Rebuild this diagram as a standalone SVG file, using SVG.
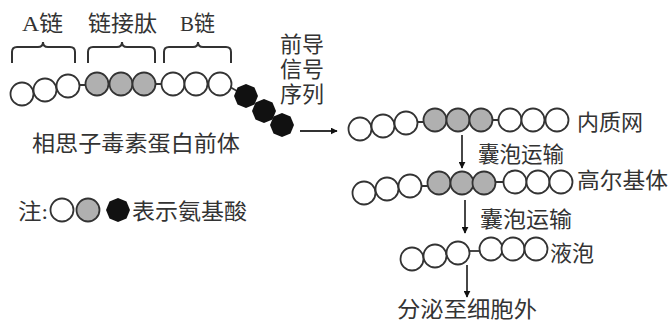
<svg xmlns="http://www.w3.org/2000/svg" width="671" height="325" viewBox="0 0 671 325">
<defs>
<style>
.t{font-family:"Liberation Serif","Noto Sans CJK SC",serif;font-size:22px;fill:#333}
.w{fill:#fff;stroke:#333;stroke-width:1.8}
.g{fill:#b0b0b0;stroke:#333;stroke-width:1.8}
.l{stroke:#333;stroke-width:1.8;fill:none}
.br{stroke:#333;stroke-width:2;fill:none}
</style>
<marker id="ah" viewBox="0 0 10 10" refX="9" refY="5" markerWidth="7" markerHeight="7" orient="auto" markerUnits="userSpaceOnUse">
<path d="M0,0 L10,5 L0,10 z" fill="#111"/>
</marker>
<polygon id="oct" points="12,0 8.5,8.5 0,12 -8.5,8.5 -12,0 -8.5,-8.5 0,-12 8.5,-8.5" fill="#111"/>
</defs>
<rect width="671" height="325" fill="#fff"/>

<g id="precursor">
<path class="br" d="M12,63 V52 Q12,47 17,47 H38 Q43,47 43,42 Q43,47 48,47 H70 Q75,47 75,52 V63"/>
<path class="br" d="M88,63 V52 Q88,47 93,47 H117 Q122,47 122,42 Q122,47 127,47 H150 Q155,47 155,52 V63"/>
<path class="br" d="M164,63 V52 Q164,47 169,47 H193 Q198,47 198,42 Q198,47 203,47 H226 Q231,47 231,52 V63"/>
<text class="t" x="22" y="31" textLength="41" lengthAdjust="spacingAndGlyphs">A链</text>
<text class="t" x="88" y="31" textLength="69" lengthAdjust="spacingAndGlyphs">链接肽</text>
<text class="t" x="180" y="31" textLength="35" lengthAdjust="spacingAndGlyphs">B链</text>
<path class="l" d="M79,85 H87 M155,84 H162 M230,87 L237,91"/>
<circle class="w" cx="22" cy="94" r="11.5"/>
<circle class="w" cx="45" cy="90" r="11.5"/>
<circle class="w" cx="68" cy="86" r="11.5"/>
<circle class="g" cx="97" cy="84" r="11.5"/>
<circle class="g" cx="121" cy="84" r="11.5"/>
<circle class="g" cx="144" cy="84" r="11.5"/>
<circle class="w" cx="173" cy="84" r="11.5"/>
<circle class="w" cx="196" cy="84" r="11.5"/>
<circle class="w" cx="220" cy="84" r="11.5"/>
<use href="#oct" x="246" y="96"/>
<use href="#oct" x="264" y="111"/>
<use href="#oct" x="282" y="125"/>
<text class="t" x="32" y="151" textLength="208" lengthAdjust="spacingAndGlyphs">相思子毒素蛋白前体</text>
</g>

<g id="signal-label">
<text class="t" x="280" y="52" textLength="44" lengthAdjust="spacingAndGlyphs">前导</text>
<text class="t" x="280" y="77" textLength="44" lengthAdjust="spacingAndGlyphs">信号</text>
<text class="t" x="280" y="102" textLength="44" lengthAdjust="spacingAndGlyphs">序列</text>
</g>

<g id="legend">
<text class="t" x="18" y="219" textLength="30" lengthAdjust="spacingAndGlyphs">注:</text>
<circle class="w" cx="62" cy="210" r="11.5"/>
<circle class="g" cx="88" cy="210" r="11.5"/>
<use href="#oct" x="118" y="210"/>
<text class="t" x="132" y="219" textLength="115" lengthAdjust="spacingAndGlyphs">表示氨基酸</text>
</g>

<g id="er">
<path class="l" d="M417,122 H424 M492,120 H499"/>
<circle class="w" cx="360" cy="129" r="11.5"/>
<circle class="w" cx="383" cy="126" r="11.5"/>
<circle class="w" cx="406" cy="123" r="11.5"/>
<circle class="g" cx="435" cy="120" r="11.5"/>
<circle class="g" cx="458" cy="120" r="11.5"/>
<circle class="g" cx="481" cy="120" r="11.5"/>
<circle class="w" cx="510" cy="120" r="11.5"/>
<circle class="w" cx="533" cy="120" r="11.5"/>
<circle class="w" cx="557" cy="120" r="11.5"/>
<text class="t" x="577" y="130" textLength="66" lengthAdjust="spacingAndGlyphs">内质网</text>
</g>

<g id="golgi">
<path class="l" d="M421,186 H428 M495,182 H503"/>
<circle class="w" cx="364" cy="193" r="11.5"/>
<circle class="w" cx="387" cy="189" r="11.5"/>
<circle class="w" cx="410" cy="186" r="11.5"/>
<circle class="g" cx="439" cy="183" r="11.5"/>
<circle class="g" cx="462" cy="183" r="11.5"/>
<circle class="g" cx="484" cy="183" r="11.5"/>
<circle class="w" cx="515" cy="182" r="11.5"/>
<circle class="w" cx="538" cy="182" r="11.5"/>
<circle class="w" cx="561" cy="182" r="11.5"/>
<text class="t" x="577" y="188" textLength="91" lengthAdjust="spacingAndGlyphs">高尔基体</text>
</g>

<g id="vacuole">
<path class="l" d="M469,251 H480"/>
<circle class="w" cx="412" cy="259" r="11.5"/>
<circle class="w" cx="435" cy="256" r="11.5"/>
<circle class="w" cx="458" cy="253" r="11.5"/>
<circle class="w" cx="491" cy="249" r="11.5"/>
<circle class="w" cx="513" cy="249" r="11.5"/>
<circle class="w" cx="536" cy="249" r="11.5"/>
<text class="t" x="550" y="261" textLength="44" lengthAdjust="spacingAndGlyphs">液泡</text>
</g>

<g id="outside">
<text class="t" x="397" y="317" textLength="140" lengthAdjust="spacingAndGlyphs">分泌至细胞外</text>
</g>

<g id="transport-labels">
<text class="t" x="478" y="162" textLength="86" lengthAdjust="spacingAndGlyphs">囊泡运输</text>
<text class="t" x="480" y="227" textLength="92" lengthAdjust="spacingAndGlyphs">囊泡运输</text>
</g>

<g id="connectors">
<line class="l" x1="300" y1="131" x2="337" y2="131" marker-end="url(#ah)"/>
<line class="l" x1="462" y1="135" x2="462" y2="168" marker-end="url(#ah)"/>
<line class="l" x1="465" y1="200" x2="465" y2="233" marker-end="url(#ah)"/>
<line class="l" x1="467" y1="265" x2="467" y2="297" marker-end="url(#ah)"/>
</g>
</svg>
